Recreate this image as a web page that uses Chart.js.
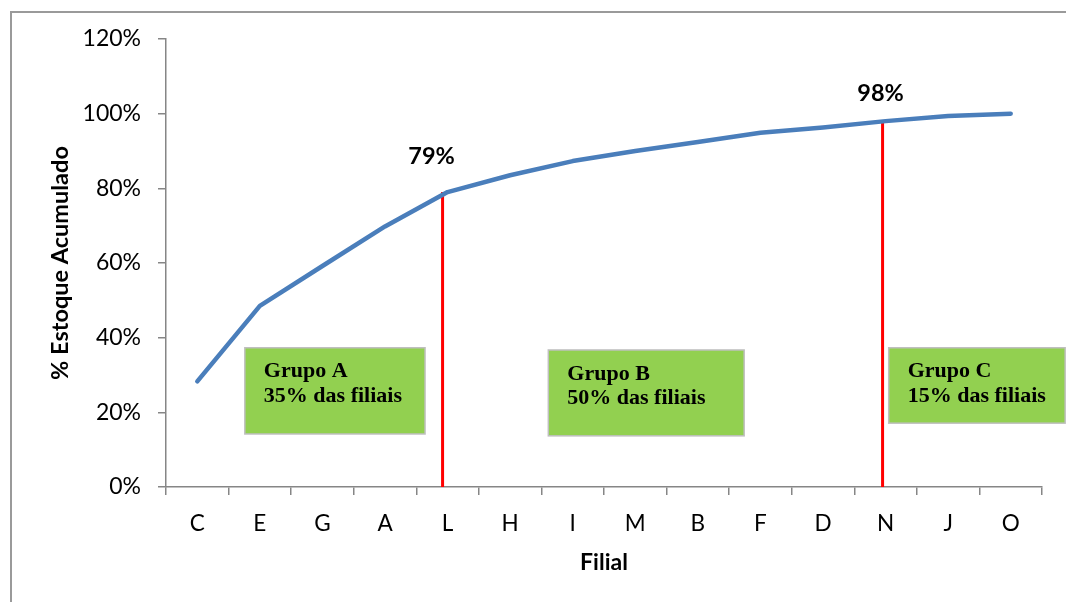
<!DOCTYPE html>
<html>
<head>
<meta charset="utf-8">
<script src="https://cdn.jsdelivr.net/npm/chart.js@4/dist/chart.umd.min.js"></script>
<style>
  html, body { margin: 0; padding: 0; background: #ffffff; }
  #wrap { width: 1066px; height: 602px; position: relative; }
  canvas { display: block; }
</style>
</head>
<body>
<div id="wrap"><canvas id="chart" width="1066" height="602"></canvas></div>
<script>
// Filiais ordered by stock share, with the cumulative stock percentage
const filiais = ['C', 'E', 'G', 'A', 'L', 'H', 'I', 'M', 'B', 'F', 'D', 'N', 'J', 'O'];
const estoqueAcumulado = [28.3, 48.5, 59.2, 69.8, 79, 83.5, 87.3, 90.0, 92.4, 94.9, 96.3, 98, 99.4, 100];
const yTicks = [0, 20, 40, 60, 80, 100, 120];

// ABC cut-off points (filial where each group ends)
const cortes = ['L', 'N'];

// Group captions
const grupos = ['Grupo A', 'Grupo B', 'Grupo C'];
const gruposTexto = ['35% das filiais', '50% das filiais', '15% das filiais'];

// Placement of the group boxes, in axis units (category index, percent)
const gruposCaixa = [
  { x0: 0.76, x1: 3.64, y0: 37.3, y1: 14.2 },
  { x0: 5.61, x1: 8.74, y0: 36.7, y1: 13.7 },
  { x0: 11.05, x1: 13.87, y0: 37.3, y1: 17.1 }
];
// Pixel nudges for the cut-off lines and their value labels
const cortesDx = [-5, -3];
const cortesRotulo = [{ dx: -16, dy: -36 }, { dx: -5, dy: -28 }];

const AXIS_GRAY = '#868686';
const SANS = 'Lato, "Open Sans", sans-serif';
const SERIF = '"Liberation Serif", "Times New Roman", serif';

const abcPlugin = {
  id: 'abc',
  beforeDraw(chart) {
    const ctx = chart.ctx;
    ctx.save();
    ctx.fillStyle = '#ffffff';
    ctx.fillRect(0, 0, chart.width, chart.height);
    ctx.strokeStyle = '#9a9a9a';
    ctx.lineWidth = 2;
    ctx.strokeRect(11, 12, chart.width + 40, chart.height + 40);
    ctx.restore();
  },
  beforeDatasetsDraw(chart) {
    const ctx = chart.ctx;
    const xs = chart.scales.x, ys = chart.scales.y;
    ctx.save();
    // red cut-off lines from the curve down to the axis
    ctx.strokeStyle = '#ff0000';
    ctx.lineWidth = 3;
    cortes.forEach((c, k) => {
      const i = filiais.indexOf(c);
      const px = xs.getPixelForValue(i) + cortesDx[k];
      ctx.beginPath();
      ctx.moveTo(px, ys.getPixelForValue(estoqueAcumulado[i]));
      ctx.lineTo(px, ys.getPixelForValue(0));
      ctx.stroke();
    });
    // group boxes
    gruposCaixa.forEach((b, k) => {
      const x0 = xs.getPixelForValue(b.x0), x1 = xs.getPixelForValue(b.x1);
      const y0 = ys.getPixelForValue(b.y0), y1 = ys.getPixelForValue(b.y1);
      ctx.fillStyle = '#92d050';
      ctx.fillRect(x0, y0, x1 - x0, y1 - y0);
      ctx.strokeStyle = '#bfbfbf';
      ctx.lineWidth = 1.5;
      ctx.strokeRect(x0, y0, x1 - x0, y1 - y0);
      ctx.fillStyle = '#000000';
      ctx.font = 'bold 22px ' + SERIF;
      ctx.textAlign = 'left';
      ctx.textBaseline = 'middle';
      ctx.fillText(grupos[k], x0 + 19, y0 + 24);
      ctx.fillText(gruposTexto[k], x0 + 19, y0 + 48.5);
    });
    ctx.restore();
  },
  afterDatasetsDraw(chart) {
    const ctx = chart.ctx;
    const xs = chart.scales.x, ys = chart.scales.y;
    ctx.save();
    ctx.fillStyle = '#000000';
    ctx.font = 'bold 23.5px ' + SANS;
    ctx.textAlign = 'center';
    ctx.textBaseline = 'middle';
    cortes.forEach((c, k) => {
      const i = filiais.indexOf(c);
      const v = estoqueAcumulado[i];
      ctx.fillText(Math.round(v) + '%', xs.getPixelForValue(i) + cortesRotulo[k].dx,
        ys.getPixelForValue(v) + cortesRotulo[k].dy);
    });
    ctx.restore();
  }
};

new Chart(document.getElementById('chart'), {
  type: 'line',
  data: {
    labels: filiais,
    datasets: [{
      label: '% Estoque Acumulado',
      data: estoqueAcumulado,
      borderColor: '#4a7ebb',
      borderWidth: 4.5,
      borderCapStyle: 'round',
      borderJoinStyle: 'round',
      pointRadius: 0,
      tension: 0,
      fill: false
    }]
  },
  options: {
    responsive: false,
    animation: false,
    devicePixelRatio: 1,
    layout: { padding: { left: 0, top: 39, right: 24, bottom: 0 } },
    plugins: { legend: { display: false }, tooltip: { enabled: false } },
    scales: {
      x: {
        type: 'category',
        offset: true,
        grid: { display: true, offset: true, drawOnChartArea: false, drawTicks: true, tickLength: 8, color: AXIS_GRAY, lineWidth: 1.5 },
        border: { display: true, color: AXIS_GRAY, width: 1.5 },
        ticks: { color: '#000000', font: { family: SANS, size: 22.5 }, padding: 15, maxRotation: 0, autoSkip: false },
        title: { display: true, text: 'Filial', color: '#000000', font: { family: SANS, size: 23, weight: 'bold' }, padding: { top: 0, bottom: 26 } },
        afterFit(s) { s.height = 115; }
      },
      y: {
        min: 0,
        max: 120,
        afterBuildTicks(s) { s.ticks = yTicks.map(v => ({ value: v })); },
        grid: { display: true, drawOnChartArea: false, drawTicks: true, tickLength: 8, color: AXIS_GRAY, lineWidth: 1.5 },
        border: { display: true, color: AXIS_GRAY, width: 1.5 },
        ticks: { color: '#000000', font: { family: SANS, size: 23 }, padding: 17, callback: v => v + '%' },
        title: { display: true, text: '% Estoque Acumulado', color: '#000000', font: { family: SANS, size: 23.5, weight: 'bold' }, padding: { top: 46, bottom: 0 } },
        afterFit(s) { s.width = 166; }
      }
    }
  },
  plugins: [abcPlugin]
});
</script>
</body>
</html>
